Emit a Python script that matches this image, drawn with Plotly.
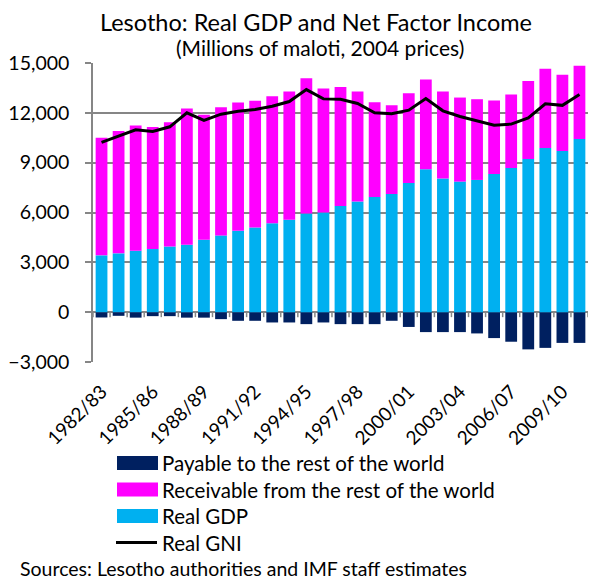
import plotly.graph_objects as go

years = [f"{y}/{str(y + 1)[-2:]}" for y in range(1982, 2011)]

# Millions of maloti, 2004 prices
real_gdp = [3420, 3540, 3700, 3800, 3960, 4060, 4360, 4620, 4900, 5100,
            5360, 5560, 5940, 6000, 6390, 6660, 6940, 7120, 7780, 8600,
            8040, 7860, 7960, 8320, 8680, 9220, 9880, 9700, 10420]
receivable = [7080, 7360, 7540, 7340, 7480, 8200, 7520, 7720, 7720, 7620,
              7640, 7720, 8140, 7460, 7170, 6620, 5700, 5340, 5400, 5400,
              5240, 5060, 4860, 4420, 4420, 4700, 4780, 4600, 4420]
payable = [-320, -220, -330, -240, -240, -330, -330, -420, -520, -520,
           -620, -620, -720, -620, -720, -720, -720, -520, -890, -1200,
           -1200, -1200, -1280, -1560, -1780, -2240, -2150, -1850, -1850]
real_gni = [10220, 10600, 10980, 10880, 11160, 12000, 11540, 11920, 12100, 12200,
            12400, 12680, 13400, 12840, 12820, 12560, 12000, 11940, 12160, 12860,
            12120, 11780, 11520, 11260, 11320, 11700, 12540, 12450, 13100]

tick_years = years[::3]
y_ticks = list(range(-3000, 15001, 3000))

FONT = "Lato, 'Liberation Sans', sans-serif"
GRID = "#868686"
C_PAY = "#002060"
C_REC = "#FF00FF"
C_GDP = "#00B0F0"

# page geometry (pixels)
W, H = 596, 580
L, R, T, B = 93, 8, 63, 218
PW, PH = W - L - R, H - T - B


def px_x(x):
    return (x - L) / PW


def px_y(y):
    return (H - B - y) / PH


fig = go.Figure()

fig.add_trace(go.Bar(x=years, y=payable, marker=dict(color=C_PAY, line_width=0),
                     name="Payable to the rest of the world"))
fig.add_trace(go.Bar(x=years, y=real_gdp, marker=dict(color=C_GDP, line_width=0),
                     name="Real GDP"))
fig.add_trace(go.Bar(x=years, y=receivable, marker=dict(color=C_REC, line_width=0),
                     name="Receivable from the rest of the world"))
fig.add_trace(go.Scatter(x=years, y=real_gni, mode="lines",
                         line=dict(color="black", width=3), name="Real GNI"))

shapes = []
# zero line with small category-separator ticks
shapes.append(dict(type="line", xref="paper", yref="y", x0=0, x1=1, y0=0, y1=0,
                   line=dict(color=GRID, width=1.5), layer="below"))
for i in range(len(years) + 1):
    shapes.append(dict(type="line", xref="x", yref="y",
                       x0=i - 0.5, x1=i - 0.5, y0=0, y1=-300,
                       line=dict(color=GRID, width=1.5), layer="below"))

# legend: wide swatches with labels
legend_items = [
    ("Payable to the rest of the world", C_PAY, "box"),
    ("Receivable from the rest of the world", C_REC, "box"),
    ("Real GDP", C_GDP, "box"),
    ("Real GNI", "black", "line"),
]
annotations = []
row_y = [463, 489.5, 516, 542.5]
for (label, color, kind), yc in zip(legend_items, row_y):
    if kind == "box":
        shapes.append(dict(type="rect", xref="paper", yref="paper",
                           x0=px_x(117), x1=px_x(158), y0=px_y(yc + 7), y1=px_y(yc - 7),
                           fillcolor=color, line=dict(width=0)))
    else:
        shapes.append(dict(type="line", xref="paper", yref="paper",
                           x0=px_x(116), x1=px_x(157), y0=px_y(yc), y1=px_y(yc),
                           line=dict(color=color, width=3)))
    annotations.append(dict(text=label, xref="paper", yref="paper",
                            x=px_x(160), y=px_y(yc), xanchor="left", yanchor="middle",
                            showarrow=False, font=dict(size=20.5, family=FONT)))

annotations += [
    dict(text="Lesotho: Real GDP and Net Factor Income", xref="paper", yref="paper",
         x=px_x(316), y=px_y(22), xanchor="center", yanchor="middle", showarrow=False,
         font=dict(size=23.5, family=FONT)),
    dict(text="(Millions of maloti, 2004 prices)", xref="paper", yref="paper",
         x=px_x(320), y=px_y(47), xanchor="center", yanchor="middle", showarrow=False,
         font=dict(size=21, family=FONT)),
    dict(text="Sources: Lesotho authorities and IMF staff estimates",
         xref="paper", yref="paper", x=px_x(18), y=px_y(568.5),
         xanchor="left", yanchor="middle",
         showarrow=False, font=dict(size=19.5, family=FONT)),
]

fig.update_layout(
    width=W, height=H,
    margin=dict(l=L, r=R, t=T, b=B),
    paper_bgcolor="white", plot_bgcolor="white",
    barmode="relative", bargap=0.31,
    showlegend=False,
    font=dict(family=FONT, size=19, color="black"),
    xaxis=dict(type="category", categoryorder="array", categoryarray=years,
               tickmode="array", tickvals=tick_years, ticktext=tick_years,
               tickangle=-45, showgrid=False, showline=False, ticks="",
               ticklabelstandoff=14,
               range=[-0.5, len(years) - 0.5],
               tickfont=dict(size=19, family=FONT)),
    yaxis=dict(range=[-3000, 15000], tickvals=y_ticks, tickformat=",",
               showgrid=True, gridcolor=GRID, gridwidth=1.5,
               showline=True, linecolor=GRID, linewidth=1.5,
               zeroline=False, ticks="outside", ticklen=6, tickcolor=GRID,
               tickwidth=1.5, ticklabelstandoff=12,
               tickfont=dict(size=19.5, family=FONT)),
    shapes=shapes,
    annotations=annotations,
)

fig.write_html("out.html")
